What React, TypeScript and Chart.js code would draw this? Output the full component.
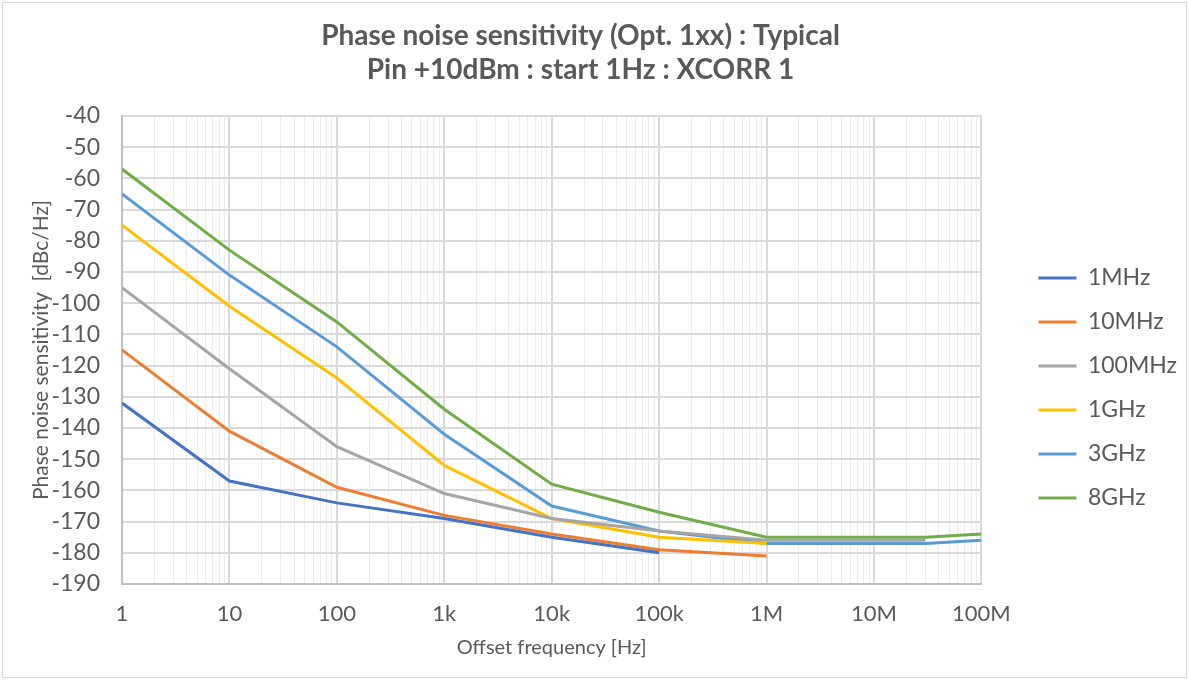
import React, { useEffect, useRef } from 'react';
import { Chart, registerables } from 'chart.js';

Chart.register(...registerables);

const FONT = 'Lato, "Open Sans", sans-serif';
const TEXT = '#595959';

// offset frequencies where the curves have break points (Hz)
const offsetFreqs = [1, 10, 100, 1e3, 1e4, 1e5, 1e6, 3e7, 1e8];

// x axis decades and labels
const decadeTicks = [1, 10, 100, 1e3, 1e4, 1e5, 1e6, 1e7, 1e8];
const decadeLabels = ['1', '10', '100', '1k', '10k', '100k', '1M', '10M', '100M'];
const minorSteps = [2, 3, 4, 5, 6, 7, 8, 9];

const seriesNames = ['1MHz', '10MHz', '100MHz', '1GHz', '3GHz', '8GHz'];
const seriesColors = ['#4472C4', '#ED7D31', '#A5A5A5', '#FFC000', '#5B9BD5', '#70AD47'];

// dBc/Hz, null = no value at that offset
const noise1MHz = [-132, -157, -164, -169, -175, -180, null, null, null];
const noise10MHz = [-115, -141, -159, -168, -174, -179, -181, null, null];
const noise100MHz = [-95, -121, -146, -161, -169, -173, -176, -176, null];
const noise1GHz = [-75, -101, -124, -152, -169, -175, -177, null, null];
const noise3GHz = [-65, -91, -114, -142, -165, -173, -177, -177, -176];
const noise8GHz = [-57, -83, -106, -134, -158, -167, -175, -175, -174];

const seriesValues = [noise1MHz, noise10MHz, noise100MHz, noise1GHz, noise3GHz, noise8GHz];

// move the legend column to where Excel put it
const legendOffset = { x: 36, y: 48 };
const legendNudge = {
  id: 'legendNudge',
  afterLayout(chart: any) {
    const lg = chart.legend;
    if (!lg) return;
    lg.left += legendOffset.x;
    lg.right += legendOffset.x;
    lg.top += legendOffset.y;
    lg.bottom += legendOffset.y;
  }
};

export default function App() {
  const canvasRef = useRef<HTMLCanvasElement>(null);
  const chartRef = useRef<Chart | null>(null);

  useEffect(() => {
    if (!canvasRef.current) return;
    if (chartRef.current) chartRef.current.destroy();

    const xTicks: number[] = [];
    decadeTicks.forEach((d, i) => {
      xTicks.push(d);
      if (i < decadeTicks.length - 1) minorSteps.forEach(s => xTicks.push(d * s));
    });

    const datasets = seriesNames.map((name, i) => ({
      label: name,
      data: offsetFreqs
        .map((f, j) => ({ x: f, y: seriesValues[i][j] }))
        .filter(p => p.y !== null),
      borderColor: seriesColors[i],
      backgroundColor: seriesColors[i],
      borderWidth: 3,
      pointRadius: 0,
      tension: 0,
      fill: false
    }));

    chartRef.current = new Chart(canvasRef.current, {
      type: 'line',
      data: { datasets },
      plugins: [legendNudge],
      options: {
        responsive: true,
        maintainAspectRatio: false,
        animation: false,
        layout: { padding: { top: 10, left: 10, right: 38, bottom: 10 } },
        plugins: {
          title: {
            display: true,
            text: ['Phase noise sensitivity (Opt. 1xx) : Typical', 'Pin +10dBm : start 1Hz : XCORR 1'],
            color: TEXT,
            font: { family: FONT, size: 28, weight: 'bold', lineHeight: 1.214 },
            padding: { top: 9, bottom: 29 }
          },
          legend: {
            position: 'right',
            labels: {
              usePointStyle: true,
              pointStyle: 'line',
              pointStyleWidth: 38,
              color: TEXT,
              font: { family: FONT, size: 23 },
              padding: 21
            }
          },
          tooltip: { enabled: false }
        },
        scales: {
          x: {
            type: 'logarithmic',
            min: 1,
            max: 1e8,
            afterBuildTicks: (scale: any) => {
              scale.ticks = xTicks.map(v => ({ value: v }));
            },
            afterFit: (scale: any) => {
              scale.height = 86;
            },
            ticks: {
              autoSkip: false,
              maxRotation: 0,
              minRotation: 0,
              padding: 17,
              color: TEXT,
              font: { family: FONT, size: 22 },
              callback: (value: any) => {
                const idx = decadeTicks.indexOf(Number(value));
                return idx >= 0 ? decadeLabels[idx] : '';
              }
            },
            grid: {
              drawTicks: false,
              color: (ctx: any) => (decadeTicks.indexOf(ctx.tick?.value) >= 0 ? '#d9d9d9' : '#ececec'),
              lineWidth: (ctx: any) => (decadeTicks.indexOf(ctx.tick?.value) >= 0 ? 2 : 1)
            },
            border: { display: true, color: '#bfbfbf', width: 2 },
            title: {
              display: true,
              text: 'Offset frequency [Hz]',
              color: TEXT,
              font: { family: FONT, size: 20 },
              padding: { top: 0, bottom: 10 }
            }
          },
          y: {
            min: -190,
            max: -40,
            afterFit: (scale: any) => {
              scale.width = 112;
            },
            ticks: {
              stepSize: 10,
              padding: 22,
              color: TEXT,
              font: { family: FONT, size: 23 }
            },
            grid: { drawTicks: false, color: '#d9d9d9', lineWidth: 2 },
            border: { display: true, color: '#bfbfbf', width: 2 },
            title: {
              display: true,
              text: 'Phase noise sensitivity  [dBc/Hz]',
              color: TEXT,
              font: { family: FONT, size: 21 },
              padding: { top: 19, bottom: 0 }
            }
          }
        }
      }
    });

    return () => {
      if (chartRef.current) {
        chartRef.current.destroy();
        chartRef.current = null;
      }
    };
  }, []);

  return (
    <div style={{ position: 'absolute', left: 0, top: 0, width: 1189, height: 680, background: '#fff' }}>
      <div
        style={{
          position: 'absolute',
          left: 2,
          top: 2,
          width: 1183,
          height: 674,
          border: '1px solid #d9d9d9'
        }}
      />
      <div style={{ position: 'absolute', left: 0, top: 0, width: 1189, height: 680 }}>
        <canvas ref={canvasRef} />
      </div>
    </div>
  );
}
